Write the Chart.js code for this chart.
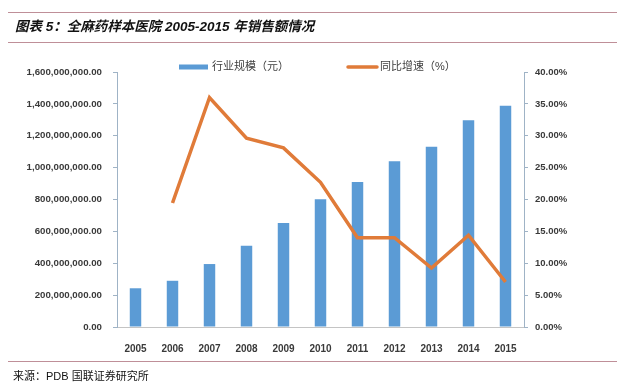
<!DOCTYPE html>
<html>
<head>
<meta charset="utf-8">
<script src="https://cdn.jsdelivr.net/npm/chart.js@4/dist/chart.umd.min.js"></script>
<style>
  html, body { margin: 0; padding: 0; background: #fff; }
  #wrap { position: relative; width: 640px; height: 392px; overflow: hidden; }
  canvas { position: absolute; left: 0; top: 0; }
  .rule { position: absolute; left: 8px; width: 609px; height: 0; border-top: 1.5px solid #bf8f98; }
  #title { position: absolute; left: 15px; top: 15px; font: italic bold 13.5px "Liberation Sans", "Noto Sans CJK SC", sans-serif; color: #111; white-space: nowrap; }
  #source { position: absolute; left: 13px; top: 367px; font: 11px "Liberation Sans", "Noto Sans CJK SC", sans-serif; color: #111; white-space: nowrap; }
</style>
</head>
<body>
<div id="wrap">
  <canvas id="c" width="640" height="392"></canvas>
  <div class="rule" style="top:12px"></div>
  <div id="title">图表 5：全麻药样本医院 2005-2015 年销售额情况</div>
  <div class="rule" style="top:42px"></div>
  <div class="rule" style="top:361px"></div>
  <div id="source">来源：PDB 国联证券研究所</div>
</div>
<script>
const categories = ['2005','2006','2007','2008','2009','2010','2011','2012','2013','2014','2015'];
const salesLabel = '行业规模（元）';
const growthLabel = '同比增速（%）';
const salesValues = [243000000, 290000000, 395000000, 510000000, 653000000, 801000000, 910000000, 1040000000, 1131000000, 1297000000, 1389000000];
const growthValues = [null, 19.45, 36.0, 29.6, 28.1, 22.7, 14.0, 14.0, 9.25, 14.4, 7.06];
const leftTicks = { min: 0, max: 1600000000, step: 200000000 };
const rightTicks = { min: 0, max: 40, step: 5 };

const BLUE = '#5b9bd5';
const ORANGE = '#e07b39';
const AXIS = '#9fb3c6';
const TICKCOLOR = '#3a3a3a';

const legendPlugin = {
  id: 'customLegend',
  afterDraw(chart) {
    const ctx = chart.ctx;
    const ds = chart.data.datasets;
    const barDs = ds.find(d => d.type === 'bar');
    const lineDs = ds.find(d => d.type === 'line');
    ctx.save();
    ctx.font = '11px "Liberation Sans", "Noto Sans CJK SC", sans-serif';
    ctx.textBaseline = 'middle';
    const y = 67;
    ctx.fillStyle = barDs.backgroundColor;
    ctx.fillRect(179, y - 2.5, 29, 5);
    ctx.fillStyle = '#404040';
    ctx.fillText(barDs.label, 212, y);
    ctx.strokeStyle = lineDs.borderColor;
    ctx.lineWidth = 3.5;
    ctx.lineCap = 'round';
    ctx.beginPath();
    ctx.moveTo(348, y);
    ctx.lineTo(377, y);
    ctx.stroke();
    ctx.fillText(lineDs.label, 380, y);
    ctx.restore();
  }
};

new Chart(document.getElementById('c'), {
  data: {
    labels: categories,
    datasets: [
      {
        type: 'line',
        label: growthLabel,
        data: growthValues,
        yAxisID: 'y1',
        borderColor: ORANGE,
        backgroundColor: ORANGE,
        borderWidth: 3.5,
        pointRadius: 0,
        tension: 0,
        order: 0
      },
      {
        type: 'bar',
        label: salesLabel,
        data: salesValues,
        yAxisID: 'y',
        backgroundColor: BLUE,
        categoryPercentage: 1,
        barPercentage: 0.31,
        order: 1
      }
    ]
  },
  options: {
    responsive: false,
    animation: false,
    devicePixelRatio: 1,
    layout: { padding: { top: 72, bottom: 35, left: 0, right: 0 } },
    plugins: { legend: { display: false }, tooltip: { enabled: false }, title: { display: false } },
    scales: {
      x: {
        grid: { display: false },
        border: { display: true, color: '#c4c4c4', width: 1 },
        ticks: { color: TICKCOLOR, font: { family: '"Liberation Sans", sans-serif', size: 10, weight: 'bold' }, padding: 8, maxRotation: 0 },
        afterFit(s) { s.height = 30; }
      },
      y: {
        position: 'left',
        min: leftTicks.min, max: leftTicks.max,
        grid: { display: true, drawOnChartArea: false, drawTicks: true, tickLength: 4, color: AXIS },
        border: { display: true, color: AXIS, width: 1 },
        ticks: {
          stepSize: leftTicks.step,
          color: TICKCOLOR,
          padding: 11,
          font: { family: '"Liberation Sans", sans-serif', size: 9.7, weight: 'bold' },
          callback: v => Number(v).toLocaleString('en-US', { minimumFractionDigits: 2, maximumFractionDigits: 2 })
        },
        afterFit(s) { s.width = 117; }
      },
      y1: {
        position: 'right',
        min: rightTicks.min, max: rightTicks.max,
        grid: { display: true, drawOnChartArea: false, drawTicks: true, tickLength: 4, color: AXIS },
        border: { display: true, color: AXIS, width: 1 },
        ticks: {
          stepSize: rightTicks.step,
          color: TICKCOLOR,
          padding: 7,
          font: { family: '"Liberation Sans", sans-serif', size: 9.5, weight: 'bold' },
          callback: v => Number(v).toFixed(2) + '%'
        },
        afterFit(s) { s.width = 116; }
      }
    }
  },
  plugins: [legendPlugin]
});
</script>
</body>
</html>
